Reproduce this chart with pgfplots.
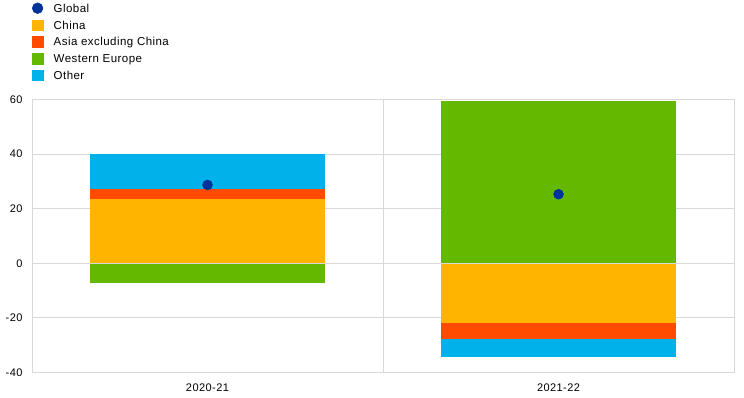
\documentclass[border=0pt]{standalone}
\usepackage{pgfplots}
\pgfplotsset{compat=1.18}
\usepackage{fontspec}
\setmainfont{Liberation Sans}[LetterSpace=4]
\definecolor{cglobal}{HTML}{003299}
\definecolor{cchina}{HTML}{FFB400}
\definecolor{casia}{HTML}{FF4B00}
\definecolor{cweu}{HTML}{65B800}
\definecolor{cother}{HTML}{00B1EA}
\definecolor{cgrid}{HTML}{D9D9D9}
\begin{document}
\begin{tikzpicture}
\begin{axis}[
  at={(0,0)}, anchor=south west,
  scale only axis, width=702bp, height=273bp,
  xmin=-0.5, xmax=1.5, ymin=-40, ymax=60,
  xtick={0,1}, xticklabels={2020-21,2021-22},
  minor xtick={0.5}, xminorgrids,
  ytick={-40,-20,0,20,40,60}, yticklabels={-40,-20,0,20,40,60},
  ymajorgrids,
  major tick length=0pt, minor tick length=0pt,
  grid style={cgrid, line width=1bp},
  minor grid style={cgrid, line width=1bp},
  axis line style={cgrid, line width=1bp},
  tick label style={font=\fontsize{11bp}{13bp}\selectfont, text=black},
  xticklabel style={yshift=-8bp},
  yticklabel style={xshift=-6bp},
  ybar, bar width=0.667, bar shift=0pt,
  legend style={draw=none, fill=none, inner sep=0pt, outer sep=0pt,
    at={(axis description cs:0,1)}, anchor=north west, xshift=0bp, yshift=96.9bp,
    font=\fontsize{11.5bp}{13bp}\selectfont, row sep=5.75bp,
    nodes={inner sep=0pt, anchor=west, text height=8.2bp, text depth=0bp}},
  legend cell align=left,
  /tikz/every odd column/.style={column sep=10.5bp},
]
% legend entries
\addlegendimage{legend image code/.code={\fill[cglobal] (5.3bp,0bp) circle (5.4bp);}}
\addlegendentry{Global}
\addlegendimage{legend image code/.code={\fill[cchina] (0bp,-5.3bp) rectangle (10.6bp,5.3bp);}}
\addlegendentry{China}
\addlegendimage{legend image code/.code={\fill[casia] (0bp,-5.3bp) rectangle (10.6bp,5.3bp);}}
\addlegendentry{Asia excluding China}
\addlegendimage{legend image code/.code={\fill[cweu] (0bp,-5.3bp) rectangle (10.6bp,5.3bp);}}
\addlegendentry{Western Europe}
\addlegendimage{legend image code/.code={\fill[cother] (0bp,-5.3bp) rectangle (10.6bp,5.3bp);}}
\addlegendentry{Other}
% stacked segments drawn as overlapping bars from zero (cumulative ends)
% positive side
\addplot[fill=cother, draw=none, forget plot] coordinates {(0,40.0)};
\addplot[fill=casia, draw=none, forget plot] coordinates {(0,27.3)};
\addplot[fill=cchina, draw=none, forget plot] coordinates {(0,23.5)};
\addplot[fill=cweu, draw=none, forget plot] coordinates {(1,59.4)};
% negative side
\addplot[fill=cother, draw=none, forget plot] coordinates {(1,-34.2)};
\addplot[fill=casia, draw=none, forget plot] coordinates {(1,-27.7)};
\addplot[fill=cchina, draw=none, forget plot] coordinates {(1,-21.8)};
\addplot[fill=cweu, draw=none, forget plot] coordinates {(0,-7.3)};
\draw[cgrid, line width=1bp] (axis cs:-0.5,0) -- (axis cs:1.5,0);
% global
\addplot[only marks, mark=*, mark size=5bp, color=cglobal, forget plot] coordinates {(0,28.7) (1,25.3)};
\end{axis}
\pgfresetboundingbox
\path[use as bounding box] (-32bp,-25.5bp) rectangle (712bp,372.5bp);
\end{tikzpicture}
\end{document}
